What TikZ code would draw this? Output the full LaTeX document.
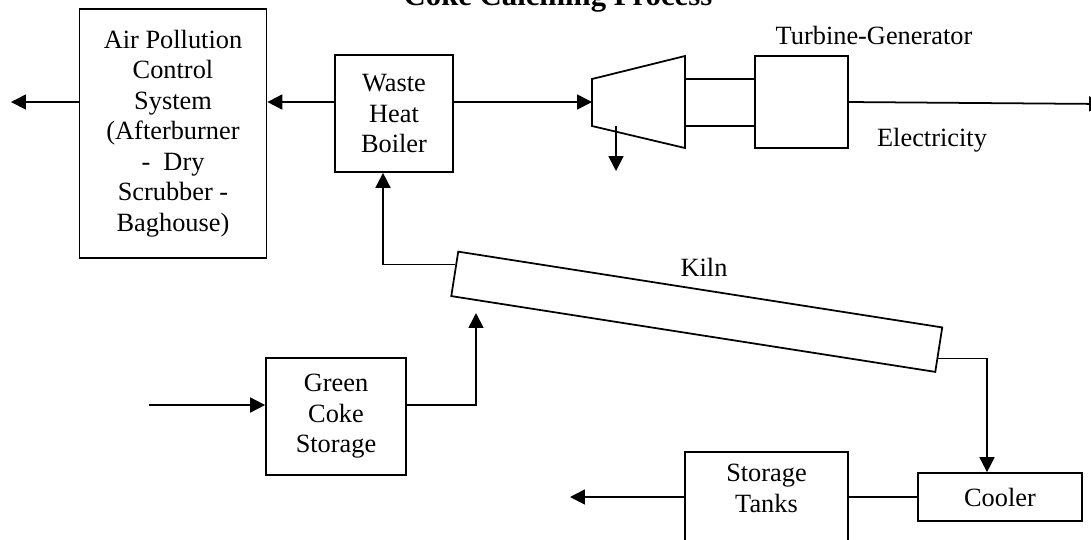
\documentclass[tikz,border=0pt]{standalone}
\usepackage{fontspec}
\setmainfont{Liberation Serif}
\usetikzlibrary{arrows.meta,calc}

\tikzset{
  blk/.style={draw, line width=1pt, align=center, inner sep=0pt,
    font=\fontsize{15}{17.4}\selectfont},
  lbl/.style={font=\fontsize{15}{17.4}\selectfont},
  flow/.style={->, line width=1pt},
}

\begin{document}
\begin{tikzpicture}[x=0.02cm, y=-0.02cm, line width=1pt,
    >={Triangle[length=8.5pt,width=8.5pt]}]
    \useasboundingbox (0,0) rectangle (1091,539);

    \node[anchor=base, font=\fontsize{17.5}{20}\selectfont\bfseries] (title)
        at (558,5) {Coke Calcining Process};

    % gas side
    \node[blk, minimum width=3.74cm, minimum height=4.98cm] (apc) at (173,133.5)
        {Air Pollution\\Control\\System\\(Afterburner\\-\ \ Dry\\Scrubber -\\Baghouse)};
    \node[blk, minimum width=2.36cm, minimum height=2.34cm] (whb) at (394,113.5)
        {Waste\\Heat\\Boiler};

    \coordinate (t1) at (592,79);
    \coordinate (t2) at (685,56);
    \coordinate (t3) at (685,148);
    \coordinate (t4) at (592,126);
    \coordinate (tin) at (592,102);
    \draw (t1) -- (t2) -- (t3) -- (t4) -- cycle;

    \node[blk, minimum width=1.86cm, minimum height=1.84cm] (gen) at (801.5,102) {};
    \draw (t2 |- t1) -- (gen.west |- t1);
    \draw (t2 |- t4) -- (gen.west |- t4);
    \node[lbl] (tglabel) at (874,35) {Turbine-Generator};
    \node[lbl] (elabel) at (932,140) {Electricity};

    \coordinate (stack) at (11,102);
    \coordinate (exh) at (616,126);
    \coordinate (exhout) at (616,171);
    \coordinate (grid) at (1104,104);

    \draw[flow] (whb.west |- tin) -- (apc.east |- tin);
    \draw[flow] (apc.west |- tin) -- (stack);
    \draw[flow] (whb.east |- tin) -- (tin);
    \draw[flow] (exh) -- (exhout);
    \draw[flow] (gen.east) -- (grid);

    % solids side
    \node[blk, minimum width=9.8cm, minimum height=0.9cm, rotate=-8.9] (kiln)
        at (696.75,311.75) {};
    \node[lbl] (kilnlabel) at (704,267) {Kiln};
    \coordinate (kin) at ($(kiln.north west)!0.3!(kiln.south west)$);
    \coordinate (kout) at ($(kiln.north east)!0.69!(kiln.south east)$);
    \coordinate (kfeed) at (476,313);

    \node[blk, minimum width=2.8cm, minimum height=2.34cm] (gcs) at (336,416.5)
        {Green\\Coke\\Storage};
    \node[blk, minimum width=3.28cm, minimum height=0.96cm] (cooler) at (1000,497)
        {Cooler};
    \node[blk, minimum width=3.26cm, minimum height=1.8cm] (tanks) at (766.5,497)
        {\raisebox{3.4pt}[\height][\depth]{\begin{tabular}{@{}c@{}}Storage\\Tanks\end{tabular}}};

    \coordinate (cin) at (149,405);
    \coordinate (prod) at (570,497);

    \draw[flow] (kin) -| ($(whb.south)+(-11,0)$);
    \draw[flow] (cin) -- (cin -| gcs.west);
    \draw[flow] (gcs.east |- cin) -| (kfeed);
    \draw[flow] (kout) -| ($(cooler.north)+(-13,0)$);
    \draw (cooler.west) -- (cooler.west -| tanks.east);
    \draw[flow] (tanks.west |- cooler.west) -- (prod);
\end{tikzpicture}
\end{document}
